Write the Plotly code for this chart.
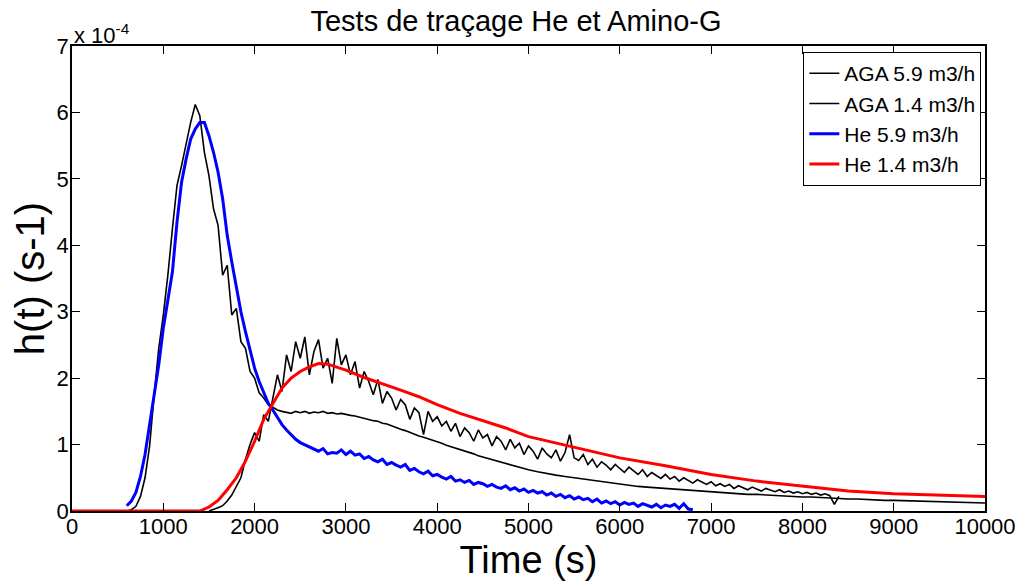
import plotly.graph_objects as go

# h(t) values in units of 1e-4 s^-1
# AGA 5.9 m3/h : 600..4950 every 50 s, then 5000..10000 every 100 s
aga59_t = list(range(600, 5000, 50)) + list(range(5000, 10001, 100))
aga59_h = [
    0.00, 0.02, 0.07, 0.22, 0.50, 0.98, 1.75, 2.45, 2.95, 3.55,
    4.25, 4.90, 5.20, 5.55, 5.85, 6.12, 5.95, 5.40, 5.05, 4.55,
    4.30, 3.55, 3.70, 2.95, 3.05, 2.55, 2.45, 2.10, 2.00, 1.78,
    1.70, 1.60, 1.56, 1.52, 1.50, 1.49, 1.47, 1.50, 1.48, 1.50,
    1.47, 1.49, 1.48, 1.50, 1.47, 1.48, 1.46, 1.47, 1.45, 1.44,
    1.43, 1.41, 1.40, 1.38, 1.36, 1.35, 1.32, 1.31, 1.28, 1.26,
    1.23, 1.21, 1.18, 1.16, 1.13, 1.11, 1.09, 1.06, 1.04, 1.02,
    0.99, 0.97, 0.95, 0.92, 0.90, 0.88, 0.86, 0.83, 0.81, 0.79,
    0.77, 0.76, 0.74, 0.72, 0.70, 0.68, 0.66, 0.64,
    # tail, every 100 s
    0.62, 0.59, 0.56, 0.54, 0.52, 0.50, 0.48, 0.46, 0.44, 0.42,
    0.40, 0.39, 0.37, 0.36, 0.35, 0.34, 0.32, 0.31, 0.30, 0.29,
    0.28, 0.28, 0.27, 0.26, 0.25, 0.25, 0.24, 0.23, 0.23, 0.22,
    0.21, 0.21, 0.20, 0.19, 0.19, 0.18, 0.18, 0.17, 0.17, 0.16,
    0.16, 0.155, 0.15, 0.15, 0.14, 0.14, 0.135, 0.13, 0.13, 0.125,
    0.12,
]

# AGA 1.4 m3/h : 1500..8400 every 50 s
aga14_t = list(range(1500, 8401, 50))
aga14_h = [
    0.00, 0.02, 0.05, 0.08, 0.15, 0.24, 0.36, 0.50, 0.78, 1.00,
    1.18, 1.05, 1.45, 1.35, 1.70, 2.05, 1.80, 2.35, 2.10, 2.55,
    2.30, 2.62, 2.05, 2.40, 2.58, 2.15, 2.30, 1.92, 2.60, 2.20,
    2.35, 2.05, 2.25, 1.85, 2.10, 1.95, 1.75, 1.98, 1.62, 1.80,
    1.70, 1.52, 1.68, 1.60, 1.38, 1.55, 1.48, 1.15, 1.50, 1.35,
    1.42, 1.28, 1.35, 1.20, 1.32, 1.12, 1.25, 1.18, 1.05, 1.22,
    1.10, 1.15, 0.98, 1.12, 1.05, 0.92, 1.08, 0.95, 1.02, 0.85,
    0.98, 0.90, 0.78, 0.95, 0.86, 0.80, 0.92, 0.75, 0.88, 1.15,
    0.80, 0.76, 0.85, 0.70, 0.78, 0.66, 0.74, 0.69, 0.62, 0.70,
    0.64, 0.58, 0.66, 0.60, 0.55, 0.62, 0.52, 0.58, 0.54, 0.49,
    0.55, 0.48, 0.52, 0.45, 0.50, 0.46, 0.42, 0.47, 0.43, 0.40,
    0.44, 0.38, 0.41, 0.37, 0.40, 0.34, 0.38, 0.35, 0.32, 0.36,
    0.33, 0.30, 0.34, 0.31, 0.29, 0.32, 0.28, 0.30, 0.27, 0.29,
    0.26, 0.28, 0.25, 0.27, 0.24, 0.26, 0.23, 0.10, 0.22,
]

# He 5.9 m3/h : 600..6800 every 50 s
he59_t = list(range(600, 6801, 50))
he59_h = [
    0.08, 0.15, 0.28, 0.52, 0.85, 1.30, 1.75, 2.20, 2.75, 3.20,
    3.60, 4.35, 4.95, 5.30, 5.60, 5.75, 5.85, 5.85, 5.65, 5.40,
    5.10, 4.70, 4.15, 3.75, 3.35, 3.00, 2.70, 2.40, 2.15, 1.95,
    1.78, 1.62, 1.52, 1.40, 1.30, 1.22, 1.15, 1.08, 1.03, 1.00,
    0.96, 0.93, 0.90, 0.94, 0.86, 0.88, 0.87, 0.92, 0.85, 0.90,
    0.84, 0.86, 0.79, 0.82, 0.77, 0.74, 0.78, 0.70, 0.73, 0.69,
    0.66, 0.70, 0.61, 0.64, 0.59, 0.56, 0.60, 0.53, 0.55, 0.51,
    0.48, 0.52, 0.45, 0.47, 0.43, 0.46, 0.40, 0.43, 0.41, 0.37,
    0.40, 0.36, 0.34, 0.38, 0.32, 0.35, 0.30, 0.33, 0.28, 0.31,
    0.27, 0.29, 0.24, 0.27, 0.22, 0.25, 0.20, 0.23, 0.18, 0.21,
    0.17, 0.19, 0.14, 0.18, 0.12, 0.15, 0.11, 0.14, 0.09, 0.13,
    0.10, 0.12, 0.07, 0.11, 0.08, 0.06, 0.10, 0.05, 0.09, 0.07,
    0.10, 0.04, 0.11, 0.03, 0.02,
]

# He 1.4 m3/h (smooth)
he14_t = [0, 1400, 1500, 1600, 1700, 1800, 1900, 2000, 2100, 2200,
          2300, 2400, 2500, 2600, 2700, 2800, 3000, 3200, 3400, 3600,
          3800, 4000, 4250, 4500, 4750, 5000, 5250, 5500, 5750, 6000,
          6500, 7000, 7500, 8000, 8500, 9000, 9500, 10000]
he14_h = [0.00, 0.00, 0.06, 0.16, 0.32, 0.50, 0.75, 1.05, 1.38, 1.62,
          1.85, 2.00, 2.10, 2.17, 2.22, 2.21, 2.12, 2.01, 1.92, 1.82,
          1.72, 1.60, 1.47, 1.36, 1.25, 1.12, 1.04, 0.96, 0.88, 0.80,
          0.68, 0.55, 0.45, 0.37, 0.30, 0.26, 0.24, 0.22]

x_ticks = list(range(0, 10001, 1000))
x_labels = [str(v) for v in x_ticks]
y_ticks = [0, 1, 2, 3, 4, 5, 6, 7]

police = "Liberation Sans, Arial, sans-serif"

fig = go.Figure()
fig.add_trace(go.Scatter(x=aga59_t, y=aga59_h, mode="lines", name="AGA 5.9 m3/h",
                         line=dict(color="black", width=1.6)))
fig.add_trace(go.Scatter(x=aga14_t, y=aga14_h, mode="lines", name="AGA 1.4 m3/h",
                         line=dict(color="black", width=1.6)))
fig.add_trace(go.Scatter(x=he59_t, y=he59_h, mode="lines", name="He 5.9 m3/h",
                         line=dict(color="#0000ff", width=3)))
fig.add_trace(go.Scatter(x=he14_t, y=he14_h, mode="lines", name="He 1.4 m3/h",
                         line=dict(color="#ff0000", width=3)))

axe = dict(showline=True, linecolor="black", linewidth=1.5, mirror="ticks",
           ticks="inside", ticklen=8, tickcolor="black", showgrid=False,
           zeroline=False, automargin=False,
           tickfont=dict(family=police, size=22, color="black"))

fig.update_xaxes(range=[0, 10000], tickvals=x_ticks, ticktext=x_labels,
                 ticklabelstandoff=-5,
                 title=dict(text="Time (s)", font=dict(family=police, size=38, color="black"),
                            standoff=0), **axe)
fig.update_yaxes(range=[0, 7], tickvals=y_ticks, ticklabelstandoff=-3,
                 title=dict(text="h(t) (s-1)", font=dict(family=police, size=40, color="black"),
                            standoff=9), **axe)

fig.add_annotation(text="x 10<sup>-4</sup>", xref="paper", yref="paper", x=0, y=1,
                   xanchor="left", yanchor="bottom", yshift=-4, showarrow=False,
                   font=dict(family=police, size=22, color="black"))

# the page body has an 8px margin, so the figure is sized to the visible area
fig.update_layout(
    width=1016, height=574,
    margin=dict(l=64, r=39, t=38, b=71, autoexpand=False),
    paper_bgcolor="white", plot_bgcolor="white",
    title=dict(text="Tests de traçage He et Amino-G", x=0.5, xanchor="center",
               y=0.977, yanchor="middle", automargin=False,
               font=dict(family=police, size=29, color="black")),
    legend=dict(x=0.996, y=0.987, xanchor="right", yanchor="top",
                bordercolor="black", borderwidth=1, bgcolor="white",
                font=dict(family=police, size=21, color="black"),
                tracegroupgap=0, itemwidth=30),
    showlegend=True,
)

fig.write_html("out.html")
